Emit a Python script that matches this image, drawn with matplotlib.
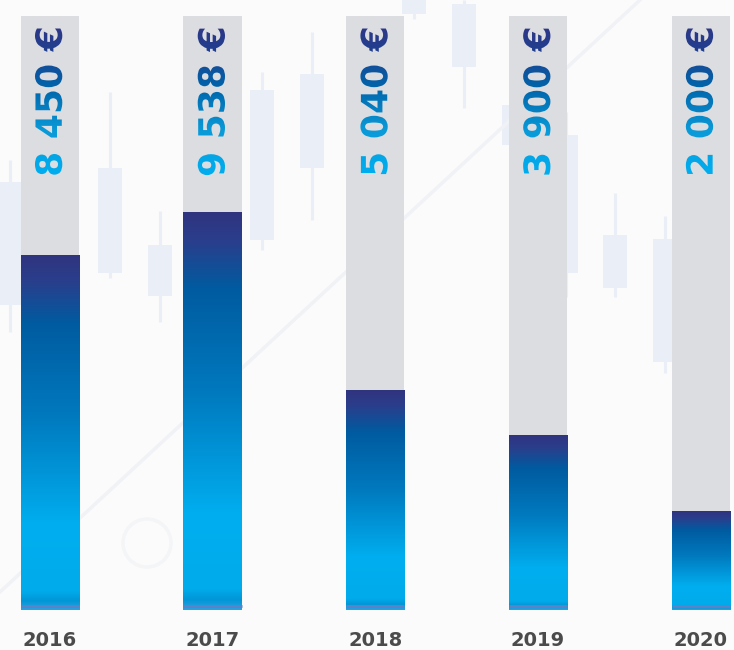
import numpy as np
import matplotlib
matplotlib.use('Agg')
import matplotlib.pyplot as plt
from matplotlib.colors import LinearSegmentedColormap
from matplotlib.patheffects import AbstractPathEffect
from matplotlib.transforms import offset_copy, TransformedPath
from matplotlib.patches import Circle

years = ['2016', '2017', '2018', '2019', '2020']
amounts = [8450, 9538, 5040, 3900, 2000]
amount_labels = ['8 450 €', '9 538 €', '5 040 €', '3 900 €', '2 000 €']
scale_floor = -500
scale_top = 14500

# faint candlestick picture behind the bars (pixels, from the top-left corner)
candle_x = [10, 110, 160, 262, 312, 414, 464, 514, 566, 615, 665]
candle_body_top = [182, 168, 245, 90, 74, 0, 4, 105, 135, 235, 239]
candle_body_bot = [305, 273, 296, 240, 168, 14, 67, 145, 273, 288, 362]
candle_wick_top = [160, 92, 211, 72, 32, 0, 0, 95, 112, 193, 216]
candle_wick_bot = [332, 278, 322, 250, 220, 19, 108, 160, 297, 297, 373]

W, H = 734, 650
fig = plt.figure(figsize=(W / 100, H / 100), dpi=100)
fig.patch.set_facecolor('#fbfbfc')

bg = fig.add_axes([0, 0, 1, 1])
bg.set_xlim(0, W)
bg.set_ylim(H, 0)
bg.axis('off')
candle_col = '#eaeff7'
bg.vlines(candle_x, candle_wick_top, candle_wick_bot, color=candle_col, lw=2.2)
bg.bar(candle_x, np.subtract(candle_body_bot, candle_body_top), bottom=candle_body_top,
       width=24, color=candle_col)
bg.plot([0, 640], [592, 0], color='#f0f2f6', lw=2.5)
bg.add_patch(Circle((147, 543), 24, fill=False, ec='#f4f5f7', lw=2.5))

# bars
ax = fig.add_axes([0, 0, 1, 1], facecolor='none')
px_per_unit = 594 / (scale_top - scale_floor)
ax.set_ylim(scale_floor - 40 / px_per_unit, scale_top + 16 / px_per_unit)
ax.set_xlim(-0.306, 4.205)
ax.set_autoscale_on(False)
ax.axis('off')
x = np.arange(len(years))
bw = 0.3565

ax.bar(x, scale_top - scale_floor, bw, bottom=scale_floor, color='#dcdde0', zorder=1)

bar_cmap = LinearSegmentedColormap.from_list('bar', [
    (0.0, '#2aa0e2'), (0.025, '#0096d6'), (0.05, '#00abeb'), (0.24, '#00aeef'),
    (0.55, '#0079be'), (0.81, '#005ba0'), (0.93, '#2a3e8c'), (1.0, '#30347f')])
grad = np.linspace(0, 1, 512).reshape(-1, 1)
for xi, v in zip(x, amounts):
    ax.imshow(grad, cmap=bar_cmap, origin='lower', aspect='auto', interpolation='bilinear',
              extent=[xi - bw / 2, xi + bw / 2, scale_floor, v], zorder=2)
ax.hlines([scale_floor] * len(x), x - bw / 2, x + bw / 2, colors='#5b83c8', lw=2,
          transform=offset_copy(ax.transData, fig=fig, y=4.5, units='dots'), zorder=3)

text_cmap = LinearSegmentedColormap.from_list('txt', [
    (0.0, '#00aeef'), (0.3, '#0a9ad8'), (0.6, '#0064aa'), (0.85, '#213f8f'), (1.0, '#2e3787')])


class GradientFill(AbstractPathEffect):
    """fill the glyphs with a vertical gradient"""
    def draw_path(self, renderer, gc, tpath, affine, rgbFace=None):
        ext = affine.transform_path(tpath).get_extents()
        h = int(np.ceil(ext.height)) + 2
        w = int(np.ceil(ext.width)) + 2
        cols = text_cmap(np.linspace(0, 1, h))
        img = (np.repeat(cols[:, None, :], w, axis=1) * 255).astype(np.uint8)
        gc0 = renderer.new_gc()
        gc0.copy_properties(gc)
        gc0.set_clip_path(TransformedPath(tpath, affine))
        renderer.draw_image(gc0, ext.x0 - 1, ext.y0 - 1, img)
        gc0.restore()


top = fig.add_axes([0, 0, 1, 1], facecolor='none')
top.set_xlim(0, W)
top.set_ylim(0, H)
top.axis('off')
for xi, lab, yr in zip(x, amount_labels, years):
    cx = ax.transData.transform((xi, 0))[0]
    top.text(cx + 12, H - 26, lab, rotation=90, rotation_mode='anchor', ha='right',
             va='baseline', fontsize=26, fontweight='bold', family='DejaVu Sans',
             color='#0064aa', path_effects=[GradientFill()])
    top.text(cx, 4, yr, ha='center', va='baseline', fontsize=14, fontweight='bold',
             color='#4b4b4b')

fig.savefig('out.png', dpi=100, facecolor=fig.get_facecolor())
